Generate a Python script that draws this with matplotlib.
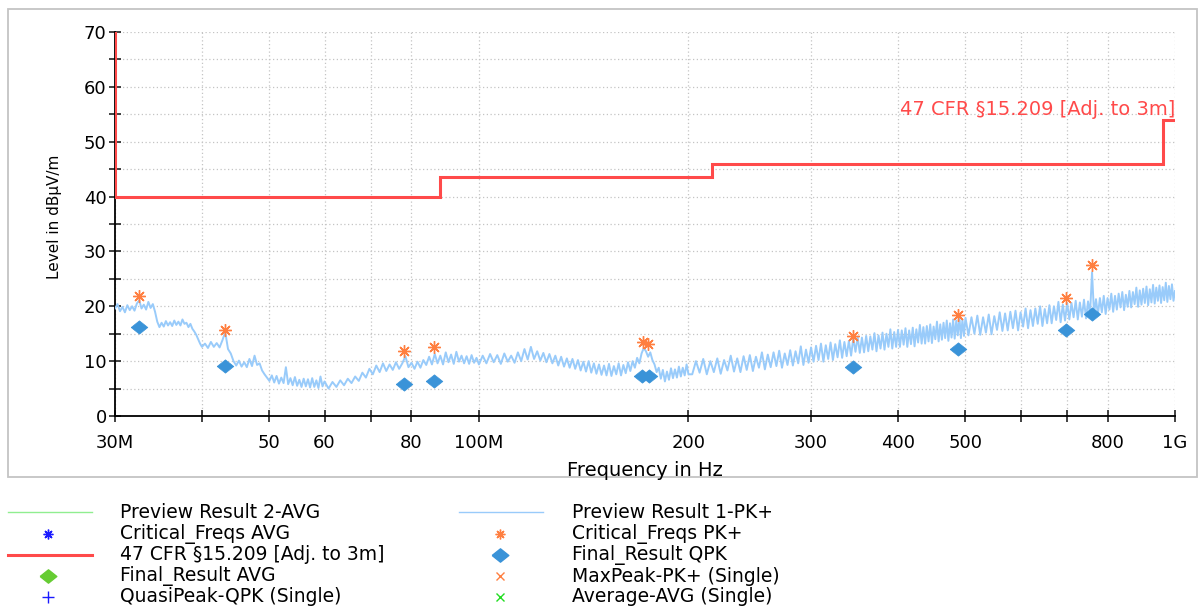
import matplotlib
matplotlib.use("Agg")
import matplotlib.pyplot as plt
from matplotlib.patches import Rectangle
from matplotlib.ticker import FixedLocator, FixedFormatter, NullLocator, MultipleLocator

# ---------------- data ----------------
# Preview Result 1-PK+ trace (MHz, dBuV/m), segment by segment
seg_a_freq = [30.0, 30.25, 30.5, 30.75, 31.0, 31.25, 31.5, 31.75, 32.0, 32.25, 32.5, 32.75, 33.0, 33.25,
              33.5, 33.75, 34.0, 34.25, 34.5, 34.75, 35.0, 35.25, 35.5, 35.75, 36.0, 36.25, 36.5, 36.75,
              37.0, 37.25, 37.5, 37.75, 38.0, 38.25, 38.5, 38.75, 39.0, 39.25, 39.5, 39.75, 40.0]
seg_a_level = [19.6, 20.4, 19.1, 19.9, 18.9, 20.2, 19.3, 20.0, 19.2, 20.5, 21.1, 19.6, 20.3, 19.4,
               20.8, 19.7, 20.4, 19.0, 17.2, 16.2, 17.0, 16.3, 17.3, 16.5, 17.1, 16.4, 17.4, 16.6,
               17.2, 16.5, 17.6, 16.8, 17.0, 16.2, 16.8, 15.9, 15.4, 14.8, 14.0, 13.2, 12.6]

seg_b_freq = [40.4, 40.8, 41.2, 41.6, 42.0, 42.4, 42.8, 43.2, 43.6, 44.0, 44.4, 44.8, 45.2, 45.6, 46.0,
              46.4, 46.8, 47.2, 47.6, 48.0, 48.4, 48.8, 49.2, 49.6, 50.0, 50.4, 50.8, 51.2, 51.6, 52.0,
              52.4, 52.8, 53.2, 53.6, 54.0, 54.4, 54.8, 55.2, 55.6, 56.0, 56.4, 56.8, 57.2, 57.6, 58.0,
              58.4, 58.8, 59.2, 59.6, 60.0]
seg_b_level = [13.2, 12.4, 13.5, 12.6, 13.3, 12.5, 13.8, 15.3, 12.2, 11.4, 10.0, 9.2, 10.1, 9.0, 9.8,
               8.9, 10.4, 9.1, 11.0, 9.3, 9.6, 8.3, 7.6, 7.0, 6.4, 7.4, 6.1, 7.3, 5.9, 7.0,
               6.0, 8.9, 5.8, 6.9, 5.6, 7.1, 5.5, 6.6, 5.3, 6.8, 5.4, 6.7, 5.2, 6.9, 5.3,
               6.5, 5.1, 7.2, 5.4, 6.3]

seg_c_freq = [60.8, 61.6, 62.4, 63.2, 64.0, 64.8, 65.6, 66.4, 67.2, 68.0, 68.8, 69.6, 70.4, 71.2, 72.0,
              72.8, 73.6, 74.4, 75.2, 76.0, 76.8, 77.6, 78.4, 79.2, 80.0, 80.8, 81.6, 82.4, 83.2, 84.0,
              84.8, 85.6, 86.4, 87.2, 88.0, 88.8, 89.6, 90.4, 91.2, 92.0, 92.8, 93.6, 94.4, 95.2, 96.0,
              96.8, 97.6, 98.4, 99.2, 100.0]
seg_c_level = [5.0, 6.2, 5.3, 6.5, 5.6, 6.8, 6.0, 7.2, 6.4, 7.9, 7.0, 8.6, 7.6, 9.2, 8.0,
               9.6, 8.2, 9.4, 8.4, 9.8, 8.6, 9.6, 10.9, 8.9, 9.7, 8.6, 9.9, 8.8, 10.2, 9.3,
               10.8, 9.4, 11.3, 9.6, 11.0, 9.4, 11.6, 9.8, 11.2, 9.5, 11.7, 9.9, 11.0, 9.6, 10.9,
               9.5, 11.1, 9.7, 10.6, 9.4]

seg_d_freq = [101.25, 102.5, 103.75, 105.0, 106.25, 107.5, 108.75, 110.0, 111.25, 112.5, 113.75, 115.0,
              116.25, 117.5, 118.75, 120.0, 121.25, 122.5, 123.75, 125.0, 126.25, 127.5, 128.75, 130.0,
              131.25, 132.5, 133.75, 135.0, 136.25, 137.5, 138.75, 140.0, 141.25, 142.5, 143.75, 145.0,
              146.25, 147.5, 148.75, 150.0, 151.25, 152.5, 153.75, 155.0, 156.25, 157.5, 158.75, 160.0,
              161.25, 162.5, 163.75, 165.0, 166.25, 167.5, 168.75, 170.0, 171.25, 172.5, 173.75, 175.0,
              176.25, 177.5, 178.75, 180.0, 181.25, 182.5, 183.75, 185.0, 186.25, 187.5, 188.75, 190.0,
              191.25, 192.5, 193.75, 195.0, 196.25, 197.5, 198.75, 200.0]
seg_d_level = [11.0, 9.6, 11.3, 9.8, 11.1, 9.5, 11.4, 9.9, 11.0, 9.7, 11.6, 10.0,
               12.2, 10.3, 12.6, 10.4, 11.8, 10.1, 11.5, 9.8, 11.3, 9.6, 11.0, 9.2,
               10.8, 9.0, 10.5, 8.8, 10.4, 8.6, 10.2, 8.3, 9.9, 8.1, 10.0, 7.9,
               9.6, 7.7, 9.4, 7.5, 9.2, 7.4, 9.5, 7.3, 9.1, 7.6, 9.6, 7.4,
               9.3, 7.8, 9.8, 8.2, 10.0, 8.8, 10.6, 9.6, 11.4, 12.4, 11.8, 10.8,
               11.6, 10.2, 9.4, 8.0, 8.8, 6.8, 8.4, 6.3, 8.1, 6.6, 8.7, 6.9,
               8.5, 7.0, 9.0, 7.2, 8.8, 7.4, 9.4, 7.6]

seg_e_freq = [202.5, 205, 207.5, 210, 212.5, 215, 217.5, 220, 222.5, 225, 227.5, 230, 232.5, 235,
              237.5, 240, 242.5, 245, 247.5, 250, 252.5, 255, 257.5, 260, 262.5, 265, 267.5, 270,
              272.5, 275, 277.5, 280, 282.5, 285, 287.5, 290, 292.5, 295, 297.5, 300,
              302.5, 305, 307.5, 310, 312.5, 315, 317.5, 320, 322.5, 325, 327.5, 330, 332.5, 335,
              337.5, 340, 342.5, 345, 347.5, 350, 352.5, 355, 357.5, 360, 362.5, 365, 367.5, 370,
              372.5, 375, 377.5, 380, 382.5, 385, 387.5, 390, 392.5, 395, 397.5, 400,
              402.5, 405, 407.5, 410, 412.5, 415, 417.5, 420, 422.5, 425, 427.5, 430, 432.5, 435,
              437.5, 440, 442.5, 445, 447.5, 450, 452.5, 455, 457.5, 460, 462.5, 465, 467.5, 470,
              472.5, 475, 477.5, 480, 482.5, 485, 487.5, 490, 492.5, 495, 497.5, 500]
seg_e_level = [7.6, 10.0, 7.9, 10.4, 7.6, 10.0, 8.0, 10.5, 7.7, 10.2, 8.3, 11.0, 8.1, 10.5,
               8.0, 10.9, 8.4, 11.1, 8.2, 10.8, 8.8, 11.6, 8.5, 11.2, 8.9, 11.6, 9.1, 11.9,
               8.8, 11.4, 9.3, 12.0, 9.2, 11.8, 9.6, 12.7, 9.3, 12.1, 9.7, 12.5,
               9.9, 12.8, 10.2, 13.2, 9.9, 12.9, 10.4, 13.4, 10.2, 13.1, 10.7, 13.8, 10.6, 13.5,
               10.9, 13.7, 11.0, 14.2, 11.7, 14.4, 11.5, 14.3, 11.6, 14.6, 11.8, 14.5, 12.1, 15.1,
               11.8, 14.7, 12.3, 15.2, 12.1, 15.0, 12.6, 15.8, 12.3, 15.3, 12.6, 15.7,
               12.6, 15.6, 13.0, 16.0, 12.6, 15.6, 13.1, 16.1, 12.7, 15.8, 13.4, 16.6, 13.2, 16.2,
               13.2, 16.4, 13.6, 16.7, 13.3, 16.3, 14.0, 17.2, 13.6, 16.7, 13.9, 17.0, 14.2, 17.4,
               13.7, 16.9, 14.3, 17.6, 14.1, 17.4, 14.7, 18.2, 14.2, 17.6, 14.6, 17.9]

seg_f_freq = [505, 510, 515, 520, 525, 530, 535, 540, 545, 550, 555, 560, 565, 570, 575, 580, 585, 590,
              595, 600, 605, 610, 615, 620, 625, 630, 635, 640, 645, 650, 655, 660, 665, 670, 675, 680,
              685, 690, 695, 700, 705, 710, 715, 720, 725, 730, 735, 740, 745, 750, 755, 760, 765, 770,
              775, 780, 785, 790, 795, 800, 805, 810, 815, 820, 825, 830, 835, 840, 845, 850, 855, 860,
              865, 870, 875, 880, 885, 890, 895, 900, 905, 910, 915, 920, 925, 930, 935, 940, 945, 950,
              955, 960, 965, 970, 975, 980, 985, 990, 995, 1000]
seg_f_level = [14.7, 18.0, 15.0, 18.3, 14.8, 18.0, 15.2, 18.5, 14.9, 18.2, 15.7, 18.9, 15.5, 18.7,
               15.6, 19.0, 16.0, 19.2, 15.6, 18.9, 16.3, 19.6, 16.0, 19.3, 16.4, 19.6, 16.8, 20.0,
               16.4, 19.5, 16.9, 20.2, 16.9, 20.0, 17.5, 20.8, 17.1, 20.3, 17.4, 20.6,
               17.6, 20.6, 18.0, 21.0, 17.6, 20.7, 18.1, 21.2, 17.8, 20.9, 18.6, 26.2, 18.6, 21.3,
               18.5, 21.5, 18.9, 21.9, 18.6, 21.5, 19.4, 22.3, 19.0, 21.9, 19.4, 22.3, 19.8, 22.6,
               19.3, 22.1, 19.9, 22.8, 19.8, 22.6, 20.4, 23.4, 19.9, 22.9, 20.3, 23.2, 20.6, 23.6,
               20.2, 23.1, 20.7, 23.9, 20.5, 23.4, 21.0, 23.8, 20.6, 23.5, 21.1, 24.3, 20.8, 23.7,
               21.3, 24.0, 21.0, 22.8]

preview_freq_mhz = seg_a_freq + seg_b_freq + seg_c_freq + seg_d_freq + seg_e_freq + seg_f_freq
preview_level = seg_a_level + seg_b_level + seg_c_level + seg_d_level + seg_e_level + seg_f_level

# Critical_Freqs PK+
crit_freq_mhz = [32.45, 43.2, 78.0, 86.3, 172.3, 174.8, 345.2, 487.0, 697.8, 759.0]
crit_level = [21.9, 15.7, 11.8, 12.5, 13.4, 13.1, 14.5, 18.4, 21.5, 27.5]

# Final_Result QPK
qpk_freq_mhz = [32.45, 43.2, 78.0, 86.3, 171.5, 175.3, 345.2, 487.0, 697.8, 759.0]
qpk_level = [16.3, 9.1, 5.8, 6.4, 7.3, 7.3, 8.9, 12.2, 15.7, 18.6]

# 47 CFR 15.209 limit (adjusted to 3 m)
limit_freq_mhz = [30, 30, 88, 88, 216, 216, 960, 960, 1000]
limit_level = [70, 40, 40, 43.5, 43.5, 46, 46, 54, 54]
limit_name = "47 CFR §15.209 [Adj. to 3m]"

x_ticks = [30, 40, 50, 60, 70, 80, 100, 200, 300, 400, 500, 600, 700, 800, 1000]
x_tick_labels = ["30M", "", "50", "60", "", "80", "100M", "200", "300", "400", "500", "", "", "800", "1G"]

legend_left = ["Preview Result 2-AVG", "Critical_Freqs AVG", limit_name,
               "Final_Result AVG", "QuasiPeak-QPK (Single)"]
legend_right = ["Preview Result 1-PK+", "Critical_Freqs PK+", "Final_Result QPK",
                "MaxPeak-PK+ (Single)", "Average-AVG (Single)"]

# ---------------- style ----------------
plt.rcParams["font.family"] = ["DejaVu Sans"]
W, H = 1203, 609
TRACE = "#99cbfa"
LIMIT = "#ff4a4a"
ORANGE = "#ff7f40"
DIAMOND = "#3a93d8"
GRID = "#c4c4c4"
diamond_marker = [(-1, 0), (0, 0.8), (1, 0), (0, -0.8), (-1, 0)]

fig = plt.figure(figsize=(W / 100, H / 100), dpi=100)
fig.patch.set_facecolor("white")

ax = fig.add_axes([115 / W, 1 - 416 / H, 1060 / W, 384 / H])
ax.set_xscale("log")
ax.set_xlim(30, 1000)
ax.set_ylim(0, 70)

ax.plot(preview_freq_mhz, preview_level, color=TRACE, lw=1.4, zorder=3)
ax.plot(limit_freq_mhz, limit_level, color=LIMIT, lw=2.2, zorder=4, solid_joinstyle="miter")
ax.plot(qpk_freq_mhz, qpk_level, ls="none", marker=diamond_marker, ms=12,
        color=DIAMOND, mec=DIAMOND, mew=0.5, zorder=5)
ax.plot(crit_freq_mhz, crit_level, ls="none", marker=(8, 2, 0), ms=9, mew=1.0,
        color=ORANGE, zorder=6)

ax.text(1000, 54.8, limit_name, color=LIMIT, fontsize=14, ha="right", va="baseline", zorder=6)

ax.xaxis.set_major_locator(FixedLocator(x_ticks))
ax.xaxis.set_major_formatter(FixedFormatter(x_tick_labels))
ax.xaxis.set_minor_locator(NullLocator())
ax.yaxis.set_major_locator(MultipleLocator(10))
ax.yaxis.set_minor_locator(MultipleLocator(5))

ax.grid(True, which="both", color=GRID, ls=(0, (1, 2)), lw=0.9, zorder=0)
ax.set_axisbelow(True)
for s in ("top", "right"):
    ax.spines[s].set_visible(False)
for s in ("left", "bottom"):
    ax.spines[s].set_linewidth(1.3)
    ax.spines[s].set_color("black")

ax.tick_params(axis="both", which="both", direction="inout", length=8, width=1.2, color="#222222",
               labelsize=13)
ax.tick_params(axis="x", pad=9)
ax.tick_params(axis="y", pad=2)

fig.text(645 / W, 1 - 470 / H, "Frequency in Hz", fontsize=14, ha="center", va="center")
fig.text(55 / W, 1 - 217 / H, "Level in dBµV/m", fontsize=11, rotation=90, ha="center", va="center")

# white cover below the frame (clips the bottom of the x label like the reference)
fig.patches.append(Rectangle((0, 0), 1, 1 - 477.5 / H, transform=fig.transFigure,
                             facecolor="white", edgecolor="none", zorder=2))
fig.patches.append(Rectangle((8 / W, 1 - 477 / H), (1197 - 8) / W, (477 - 9) / H,
                             transform=fig.transFigure, fill=False, edgecolor="#c4c4c4",
                             lw=1.3, zorder=3))

# ---------------- legend ----------------
lax = fig.add_axes([0, 0, 1, 1 - 478 / H], zorder=5)
lax.set_xlim(0, W)
lax.set_ylim(H, 478)
lax.axis("off")
rows = [512, 533.5, 555, 576, 597]

# left column
lax.plot([8, 92], [rows[0]] * 2, color="#90ee90", lw=1.0)
lax.plot([48], [rows[1]], ls="none", marker=(8, 2, 0), ms=7, mew=1.0, color="#1a1aff")
lax.plot([8, 92], [rows[2]] * 2, color=LIMIT, lw=2.2)
lax.plot([48], [rows[3]], ls="none", marker=diamond_marker, ms=12, color="#66cc33")
lax.plot([48], [rows[4]], ls="none", marker="+", ms=8, mew=1.0, color="#1a1aff")
# right column
lax.plot([459, 543], [rows[0]] * 2, color=TRACE, lw=1.0)
lax.plot([500], [rows[1]], ls="none", marker=(8, 2, 0), ms=7, mew=1.0, color=ORANGE)
lax.plot([500], [rows[2]], ls="none", marker=diamond_marker, ms=12, color=DIAMOND)
lax.plot([500], [rows[3]], ls="none", marker="x", ms=6, mew=1.0, color=ORANGE)
lax.plot([500], [rows[4]], ls="none", marker="x", ms=6, mew=1.0, color="#22dd22")

for r, txt in zip(rows, legend_left):
    lax.text(120, r, txt, fontsize=13.5, ha="left", va="center")
for r, txt in zip(rows, legend_right):
    lax.text(572, r, txt, fontsize=13.5, ha="left", va="center")

fig.savefig("out.png", dpi=100, facecolor="white")
